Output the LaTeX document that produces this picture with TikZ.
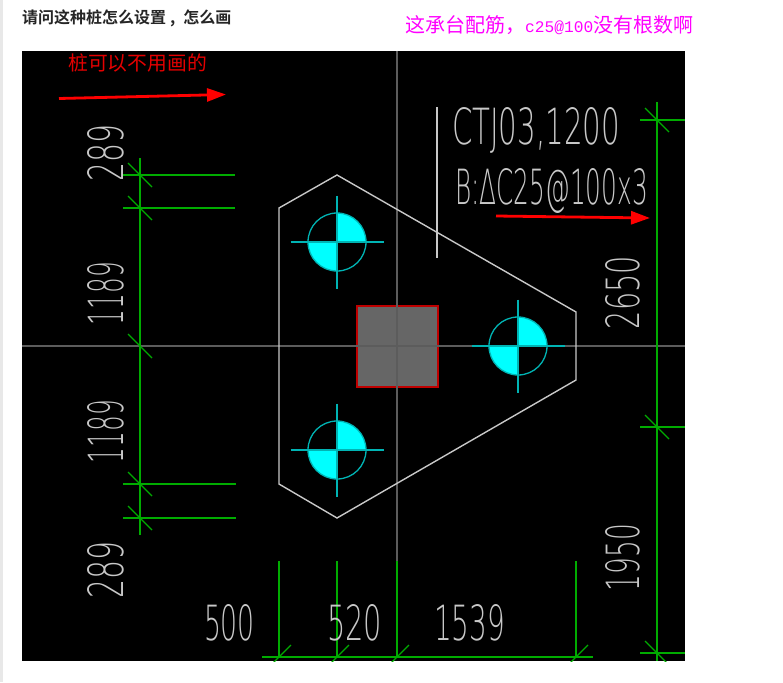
\documentclass[tikz,border=0pt]{standalone}
\usepackage{fontspec}
\usepackage{graphicx}
\usetikzlibrary{arrows.meta}
\setmainfont{Liberation Sans}
\newfontfamily\cjkbold{Noto Sans CJK SC Bold}
\newfontfamily\cjk{Noto Sans CJK SC}
\newfontfamily\cadfont{DejaVu Sans ExtraLight}
\newfontfamily\latinmono{Liberation Mono}
\newcommand{\cadtxt}[3]{\resizebox{#1pt}{#2pt}{\cadfont #3}}
\definecolor{dimgreen}{HTML}{00AC00}
\definecolor{cadgrey}{HTML}{C8C8C8}
\definecolor{axisgrey}{HTML}{5C5C5C}
\definecolor{pilecyan}{HTML}{00FFFF}
\definecolor{pileline}{HTML}{00B4B4}
\definecolor{notepink}{HTML}{FF00FF}
\tikzset{
  dimline/.style={draw=dimgreen,line width=1.7pt},
  tickline/.style={draw=dimgreen,line width=1.3pt},
  cadlabel/.style={inner sep=0pt,outer sep=0pt,text=cadgrey,anchor=base west},
  cadv/.style={cadlabel,rotate=90},
  axisline/.style={draw=axisgrey},
  redarrow/.style={draw=red,line width=2.8pt,-{Triangle[length=19pt,width=13pt]}},
  pilecross/.style={draw=pileline,line width=1.3pt},
  webtext/.style={inner sep=0pt,anchor=west}
}
\newcommand{\pile}[2]{%
  \fill[pilecyan] (#1,#2) -- ++(0,-29) arc[start angle=-90,end angle=0,radius=29] -- cycle;
  \fill[pilecyan] (#1,#2) -- ++(0,29) arc[start angle=90,end angle=180,radius=29] -- cycle;
  \draw[pilecross] (#1,#2) circle[radius=29];
  \draw[pilecross] (#1-46.5,#2) -- (#1+46.5,#2);
  \draw[pilecross] (#1,#2-46.5) -- (#1,#2+46.5);
}
\begin{document}
\begin{tikzpicture}[x=1pt,y=-1pt]
\useasboundingbox (0,0) rectangle (783,682);
\fill[white] (0,0) rectangle (783,682);
\fill[black!9] (0,0) rectangle (3,682);
\fill[black] (22,51) rectangle (685,661);
\begin{scope}
\clip (22,51) rectangle (685,661);
% column
\filldraw[fill=black!60,draw=red!75!black,line width=1.3pt] (357,306) rectangle (438,387);
% axes
\draw[axisline,line width=1.3pt] (22,346) -- (685,346);
\draw[axisline,line width=2.2pt] (397,51) -- (397,561);
% cap outline
\draw[cadgrey,line width=1.4pt] (279,208) -- (337,175) -- (576,312) -- (576,380) -- (337,518) -- (279,484) -- cycle;
\draw[cadgrey,line width=1.4pt] (437,107) -- (437,258);
% piles
\pile{337}{242}
\pile{518}{346}
\pile{337}{450}
% left dimension
\draw[dimline] (140,158) -- (140,535);
\draw[dimline] (123,175) -- (235,175);
\draw[dimline] (123,208) -- (235,208);
\draw[dimline] (123,484) -- (236,484);
\draw[dimline] (123,518) -- (236,518);
\foreach \yy in {175,208,346,484,518}
  \draw[tickline] (128,\yy-12) -- (152,\yy+12);
% right dimension
\draw[dimline] (657,102) -- (657,661);
\foreach \yy in {120,427,653}{
  \draw[dimline] (640,\yy) -- (685,\yy);
  \draw[tickline] (645,\yy-12) -- (669,\yy+12);
}
% bottom dimension
\draw[dimline] (262,657) -- (593,657);
\draw[dimline,line width=1.2pt] (279,561) -- (279,657);
\draw[dimline] (337,561) -- (337,657);
\draw[dimline] (397,561) -- (397,657);
\draw[dimline] (576,561) -- (576,657);
\foreach \xx in {279,337,397,576}
  \draw[tickline] (\xx-12,669) -- (\xx+12,645);
\end{scope}
% CAD labels
\node[cadlabel] (title1) at (452,144) {\cadtxt{168}{37}{CTJ03,1200}};
\node[cadlabel] (title2) at (455,204) {\cadtxt{193}{36}{B:ΔC25@100x3}};
\node[cadlabel] (dimA) at (204,640) {\cadtxt{51}{36}{500}};
\node[cadlabel] (dimB) at (327,640) {\cadtxt{55}{36}{520}};
\node[cadlabel] (dimC) at (434,640) {\cadtxt{71}{36}{1539}};
\node[cadv] (dimL1) at (123,181) {\cadtxt{57}{36}{289}};
\node[cadv] (dimL2) at (123,325) {\cadtxt{63}{36}{1189}};
\node[cadv] (dimL3) at (123,463) {\cadtxt{63}{36}{1189}};
\node[cadv] (dimL4) at (123,598) {\cadtxt{57}{36}{289}};
\node[cadv] (dimR1) at (639,329) {\cadtxt{73}{34}{2650}};
\node[cadv] (dimR2) at (639,591) {\cadtxt{67}{34}{1950}};
% annotations
\node[webtext,text=black!85] (question) at (22,18.5) {\fontsize{16pt}{16pt}\cjkbold 请问这种桩怎么设置\hspace{4pt},\hspace{8pt}怎么画};
\node[webtext,text=notepink] (note) at (405,25.5) {\fontsize{20pt}{20pt}\cjk 这承台配筋，{\latinmono\fontsize{16.2pt}{20pt}\selectfont c25@100}没有根数啊};
\node[webtext,text=red!90!black] (pilenote) at (68,63) {\fontsize{19.8pt}{20pt}\cjk 桩可以不用画的};
\coordinate (a1s) at (59,98.5);
\coordinate (a1e) at (226,94.5);
\coordinate (a2s) at (496,216);
\coordinate (a2e) at (650,218);
\draw[redarrow] (a1s) -- (a1e);
\draw[redarrow] (a2s) -- (a2e);
\end{tikzpicture}
\end{document}
